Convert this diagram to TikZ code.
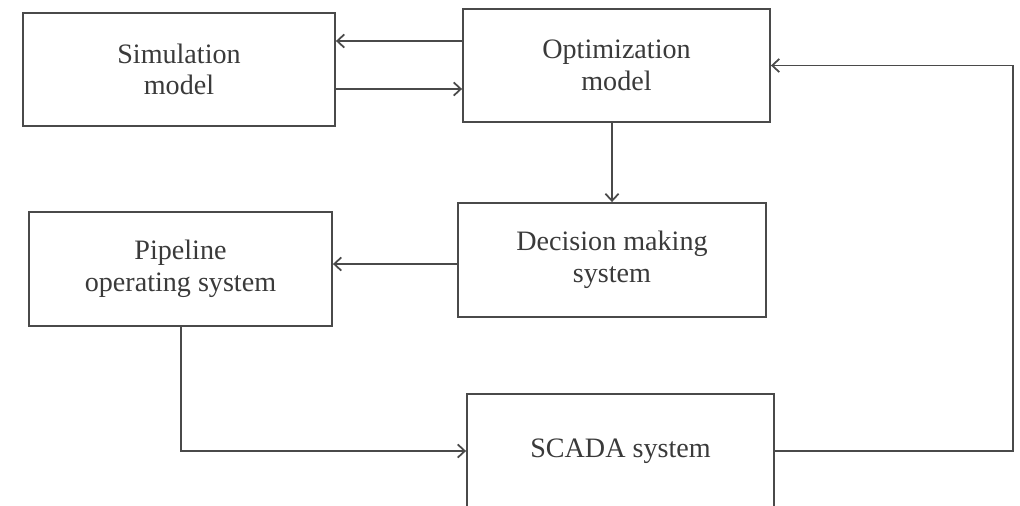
\documentclass[tikz,border=0pt]{standalone}
\usepackage{fontspec}
\setmainfont{Liberation Serif}
\usetikzlibrary{arrows.meta,calc}
\definecolor{ln}{HTML}{4A4A4A}
\definecolor{tx}{HTML}{3A3A3A}
\tikzset{
  blk/.style={draw=ln, line width=1.1pt, fill=white, text=tx, align=center,
    font=\fontsize{16}{18}\selectfont, inner sep=0pt},
  arr/.style={draw=ln, line width=1.1pt, -{Straight Barb[length=4pt,width=7.5pt,line width=1pt]}}
}
\begin{document}
\begin{tikzpicture}[x=0.02cm, y=-0.02cm]
\useasboundingbox (0,0) rectangle (1020,505);
\clip (0,0) rectangle (1020,505);
\fill[white] (0,0) rectangle (1020,505);
\node[blk, minimum width=6.24cm, minimum height=2.26cm] (sim) at (179,69.5) {Simulation\\model};
\node[blk, minimum width=6.14cm, minimum height=2.26cm] (opt) at (616.5,65.5) {Optimization\\model};
\node[blk, minimum width=6.16cm, minimum height=2.28cm] (dec) at (612,260) {Decision making\\system};
\node[blk, minimum width=6.06cm, minimum height=2.28cm] (pipe) at (180.5,269) {Pipeline\\operating system};
\node[blk, minimum width=6.14cm, minimum height=2.28cm] (scada) at (620.5,451) {SCADA system};
\coordinate (rc) at (1013,0);
\draw[arr] (opt.west |- 0,41) -- (sim.east |- 0,41);
\draw[arr] (sim.east |- 0,89) -- (opt.west |- 0,89);
\draw[arr] (opt.south -| 612,0) -- (dec.north -| 612,0);
\draw[arr] (dec.west |- 0,264) -- (pipe.east |- 0,264);
\draw[arr] (pipe.south -| 181,0) |- (scada.west);
\draw[arr] (scada.east) -| (rc |- opt.east) -- (opt.east);
\end{tikzpicture}
\end{document}
